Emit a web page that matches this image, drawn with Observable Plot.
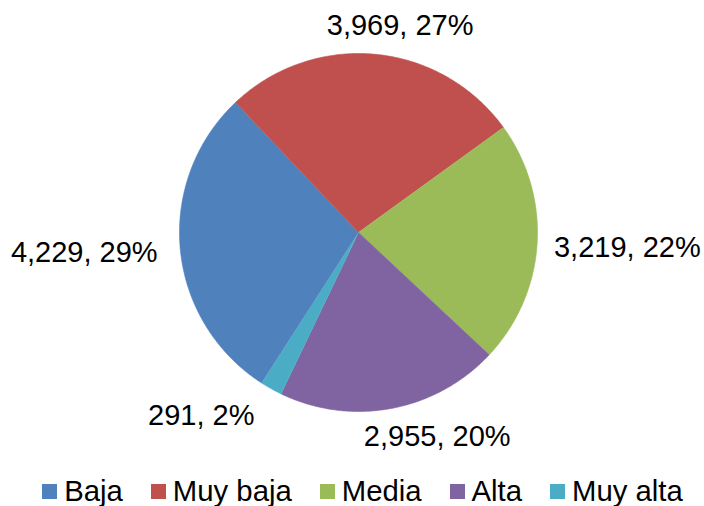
<!DOCTYPE html>
<html><head><meta charset="utf-8">
<script src="https://cdn.jsdelivr.net/npm/d3@7"></script>
<script src="https://cdn.jsdelivr.net/npm/@observablehq/plot@0.6"></script>
<style>
body{margin:0;background:#fff;font-family:"Liberation Sans",Arial,sans-serif;}
#legend{display:flex;justify-content:center;align-items:center;height:30px;line-height:30px;font-size:29.3px;color:#000;padding-left:21px;}
#legend .item{display:flex;align-items:center;margin:0 14px;}
#legend .sw{width:15px;height:15px;margin-right:7px;}
</style></head><body><div id="chart"></div><div id="legend"></div><script>
const categories = ["Baja","Muy baja","Media","Alta","Muy alta"];
const values = [4229,3969,3219,2955,291];
const colors = ["#4F81BD","#C0504D","#9BBB59","#8064A2","#4BACC6"];

const W = 704, H = 476, cx = 358, cy = 232, R = 179;
const FONT = 29;
const startDeg = 212.8;
const nudge = [[-11,1],[17,-4],[5,2],[30,4],[-38,5]];

const total = d3.sum(values);
const pie = d3.pie().sort(null).value(d => d.value).startAngle(startDeg*Math.PI/180).endAngle((startDeg+360)*Math.PI/180);
const data = categories.map((c,i)=>({cat:c,value:values[i],i}));
const arcs = pie(data);

const pts = [];
arcs.forEach(a=>{
  pts.push({cat:a.data.cat,x:0,y:0});
  const n = Math.max(4, Math.ceil((a.endAngle-a.startAngle)/(Math.PI/360)));
  for(let k=0;k<=n;k++){
    const t = a.startAngle + (a.endAngle-a.startAngle)*k/n;
    pts.push({cat:a.data.cat,x:Math.sin(t),y:Math.cos(t)});
  }
});

const ctx = document.createElement("canvas").getContext("2d");
ctx.font = `${FONT}px "Liberation Sans", Arial`;
const fmt = d3.format(",");
const labels = arcs.map((a,i)=>{
  const m = (a.startAngle+a.endAngle)/2;
  const text = fmt(a.data.value)+", "+Math.round(a.data.value/total*100)+"%";
  const w = ctx.measureText(text).width, h = 26;
  const g = 12;
  const px = Math.sin(m)*(R+g) + Math.sin(m)*w/2 + nudge[i][0];
  const py = -Math.cos(m)*(R+g) - Math.cos(m)*h/2 + nudge[i][1];
  return {text, x: px/R, y: -py/R};
});

const plot = Plot.plot({
  width: W, height: H,
  margin: 0,
  x: {domain:[-1,1], range:[cx-R, cx+R], axis:null},
  y: {domain:[-1,1], range:[cy+R, cy-R], axis:null},
  color: {domain: categories, range: colors},
  style: {fontFamily: '"Liberation Sans", Arial, sans-serif', background: "#fff"},
  marks: [
    Plot.line(pts, {x:"x", y:"y", z:"cat", fill:"cat", stroke:"cat", strokeWidth:0.6, curve:"linear"}),
    Plot.text(labels, {x:"x", y:"y", text:"text", fontSize: FONT, fill:"#000", textAnchor:"middle", lineAnchor:"middle"})
  ]
});
document.getElementById("chart").appendChild(plot);

const leg = document.getElementById("legend");
categories.forEach((c,i)=>{
  const it = document.createElement("div"); it.className="item";
  const sw = document.createElement("div"); sw.className="sw"; sw.style.background = colors[i];
  const tx = document.createElement("span"); tx.textContent = c;
  it.appendChild(sw); it.appendChild(tx); leg.appendChild(it);
});
</script></body></html>
